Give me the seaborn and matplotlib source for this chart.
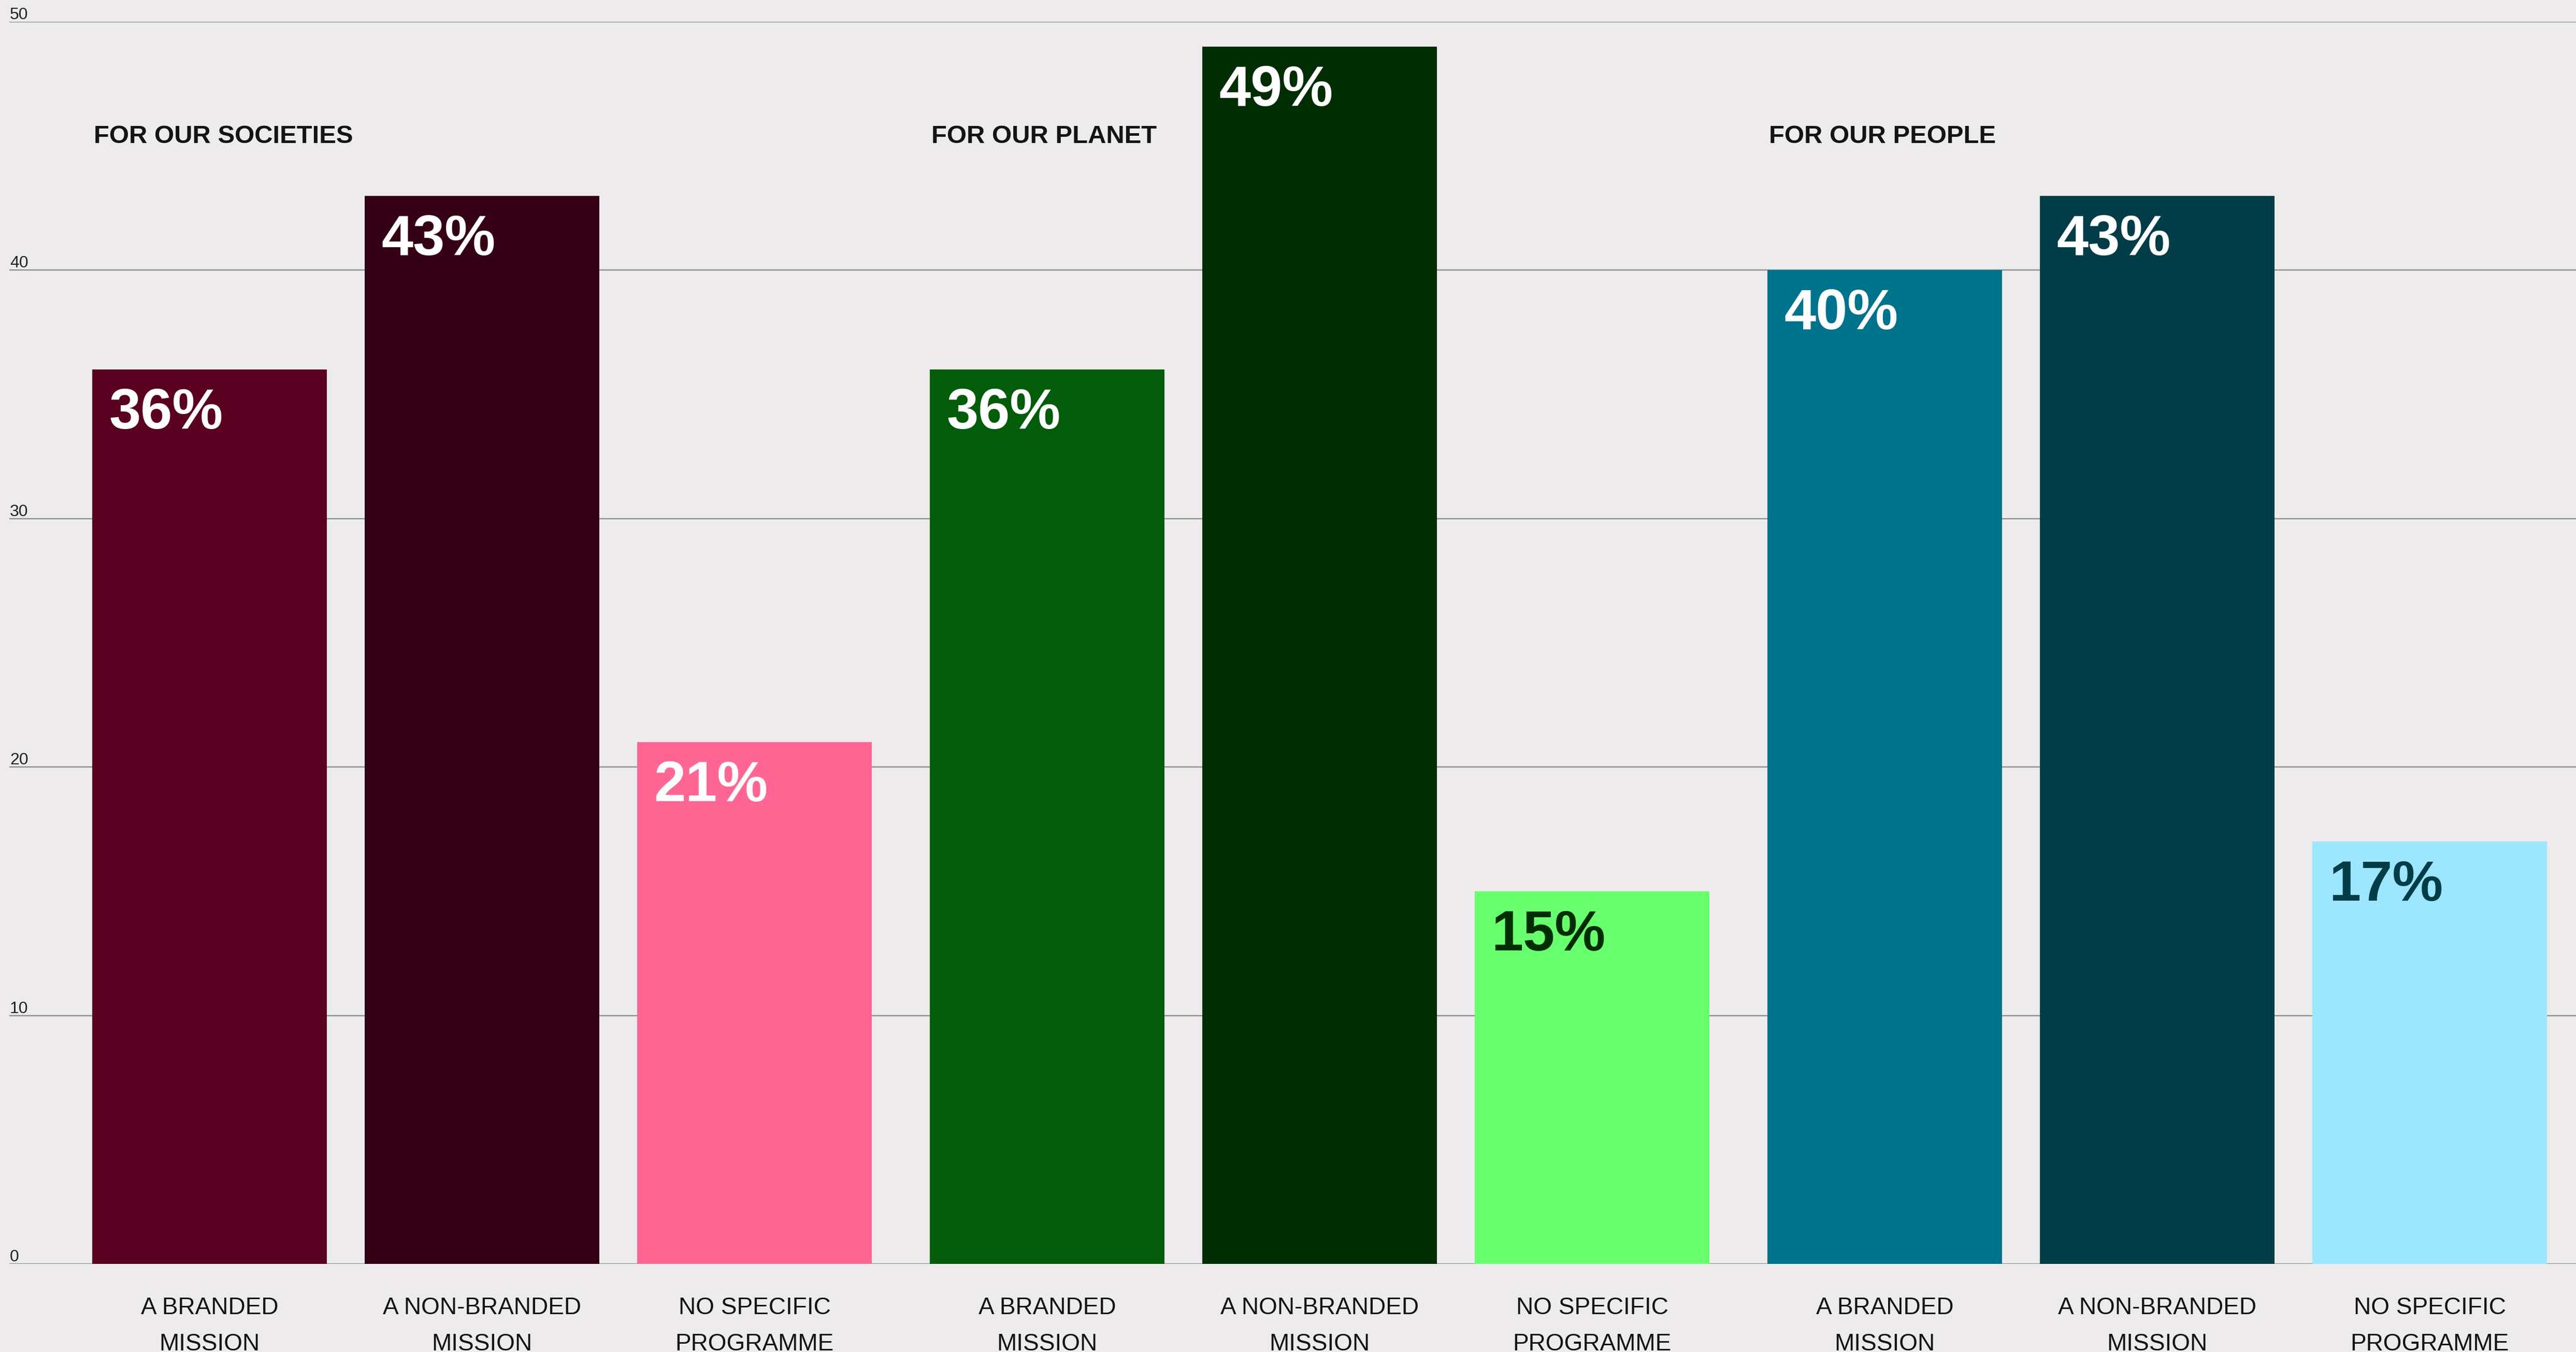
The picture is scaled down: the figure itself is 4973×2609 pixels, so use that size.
import matplotlib
matplotlib.use("Agg")
import matplotlib.pyplot as plt
import pandas as pd
import seaborn as sns

# ---- data -------------------------------------------------------------
groups = ["FOR OUR SOCIETIES", "FOR OUR PLANET", "FOR OUR PEOPLE"]
categories = ["A BRANDED\nMISSION", "A NON-BRANDED\nMISSION", "NO SPECIFIC\nPROGRAMME"]
societies = [36, 43, 21]
planet = [36, 49, 15]
people = [40, 43, 17]
y_ticks = [0, 10, 20, 30, 40, 50]

# ---- styling ----------------------------------------------------------
bar_colors = [
    ["#5a0020", "#350016", "#ff6694"],
    ["#025c09", "#002d01", "#67ff6e"],
    ["#00738c", "#013d48", "#9ce6fe"],
]
value_colors = [
    ["#ffffff", "#ffffff", "#ffffff"],
    ["#ffffff", "#ffffff", "#002d01"],
    ["#ffffff", "#ffffff", "#013d48"],
]
BG = "#edebec"
GRID = "#8f8f8f"
TEXT = "#141414"
FONT = "Liberation Sans"

DPI = 100
PX = 72 / DPI  # points per pixel

group_step = 3.074   # distance between first bars of neighbouring groups
bar_width = 0.861    # relative to the spacing of bars inside a group

sns.set_theme(style="white")
plt.rcParams["font.family"] = [FONT, "DejaVu Sans"]

# ---- table for seaborn -----------------------------------------------
rows = []
for g, (name, vals) in enumerate(zip(groups, [societies, planet, people])):
    for i, (cat, v) in enumerate(zip(categories, vals)):
        rows.append({
            "group": name,
            "category": cat,
            "value": v,
            "pos": g * group_step + i,
            "key": f"{g}-{i}",
            "color": bar_colors[g][i],
            "label_color": value_colors[g][i],
        })
df = pd.DataFrame(rows)
palette = dict(zip(df["key"], df["color"]))

fig = plt.figure(figsize=(4973 / DPI, 2609 / DPI), dpi=DPI, facecolor=BG)
ax = fig.add_axes([18 / 4973, 170 / 2609, 1 - 18 / 4973, (2439 - 42) / 2609])
ax.set_facecolor(BG)

sns.barplot(
    data=df, x="pos", y="value", hue="key", palette=palette,
    native_scale=True, dodge=False, width=bar_width, legend=False,
    saturation=1, linewidth=0, ax=ax,
)

# ---- axes -------------------------------------------------------------
ax.set_ylim(0, 50)
ax.set_xlim(-0.735, 8.685)
for s in ax.spines.values():
    s.set_visible(False)
ax.set_axisbelow(True)
ax.set_yticks(y_ticks)
ax.yaxis.grid(True, color=GRID, linewidth=2.4 * PX)
ax.xaxis.grid(False)
ax.set_yticklabels([])
ax.tick_params(axis="y", length=0)
ax.set_xlabel("")
ax.set_ylabel("")

# y values sit just above their gridlines, inside the plot area
for t in y_ticks:
    ax.annotate(
        str(t), xy=(0, t), xycoords=("axes fraction", "data"),
        xytext=(1 * PX, 5 * PX), textcoords="offset points",
        ha="left", va="baseline", fontsize=32 * PX,
        color="#222222", family=FONT,
    )

ax.set_xticks(df["pos"])
ax.set_xticklabels(df["category"], fontsize=46 * PX, color=TEXT,
                   family=FONT, linespacing=1.76)
ax.tick_params(axis="x", length=0, pad=63 * PX)

# ---- value labels inside bars ----------------------------------------
for _, r in df.iterrows():
    ax.annotate(
        f"{r['value']}%", xy=(r["pos"] - bar_width / 2, r["value"]),
        xytext=(32 * PX, -114 * PX), textcoords="offset points",
        ha="left", va="baseline", fontsize=110 * PX, fontweight="bold",
        color=r["label_color"], family=FONT,
    )

# ---- group titles -----------------------------------------------------
for g, name in enumerate(groups):
    first = g * group_step
    ax.annotate(
        name, xy=(first - bar_width / 2, 45.12),
        xytext=(3 * PX, 0), textcoords="offset points",
        ha="left", va="baseline", fontsize=49 * PX, fontweight="bold",
        color=TEXT, family=FONT,
    )

fig.savefig("out.png", dpi=DPI, facecolor=BG)
